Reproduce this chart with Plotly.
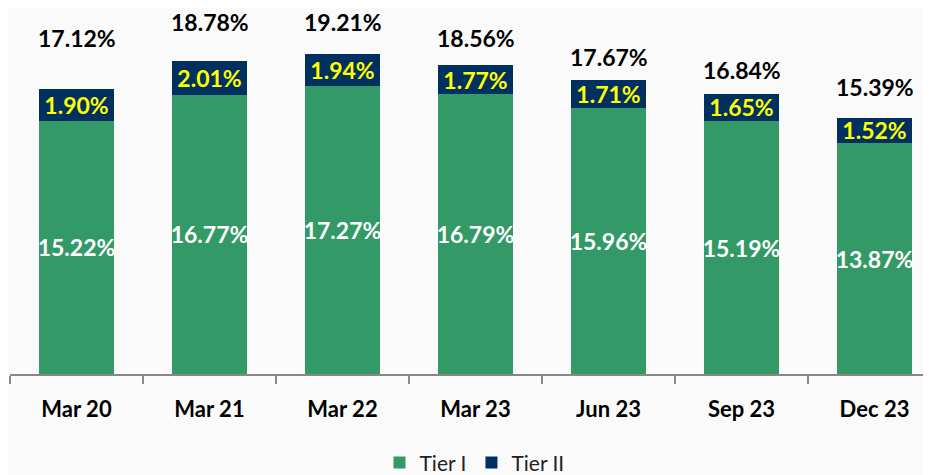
import plotly.graph_objects as go

categories = ["Mar 20", "Mar 21", "Mar 22", "Mar 23", "Jun 23", "Sep 23", "Dec 23"]
tier1 = [15.22, 16.77, 17.27, 16.79, 15.96, 15.19, 13.87]
tier2 = [1.90, 2.01, 1.94, 1.77, 1.71, 1.65, 1.52]
totals = [17.12, 18.78, 19.21, 18.56, 17.67, 16.84, 15.39]

# pixel offsets of the total labels above each bar (layout only)
total_label_shift = [51, 39, 32, 27, 23, 24, 31]

GREEN = "#339966"
NAVY = "#00305f"
FONT = "Lato"

fig = go.Figure()
fig.add_trace(go.Bar(
    x=categories, y=tier1, name="Tier I",
    marker=dict(color=GREEN, line=dict(width=0)),
    text=[f"{v:.2f}%" for v in tier1],
    textposition="inside", insidetextanchor="middle", textangle=0,
    textfont=dict(color="white", size=23, family=FONT, weight="bold"),
    constraintext="none",
    width=0.57,
))
fig.add_trace(go.Bar(
    x=categories, y=tier2, name="Tier II",
    marker=dict(color=NAVY, line=dict(width=0)),
    text=[f"{v:.2f}%" for v in tier2],
    textposition="inside", insidetextanchor="middle", textangle=0,
    textfont=dict(color="#ffff00", size=23, family=FONT, weight="bold"),
    constraintext="none",
    width=0.57,
))

for c, t, s in zip(categories, totals, total_label_shift):
    fig.add_annotation(
        x=c, y=t, text=f"{t:.2f}%", showarrow=False, borderpad=0,
        yshift=s, font=dict(size=23, color="black", family=FONT, weight="bold"),
    )

fig.update_layout(
    barmode="stack",
    width=931, height=475,
    margin=dict(l=2, r=0, t=0, b=109, autoexpand=False),
    paper_bgcolor="#fafafa", plot_bgcolor="#fafafa",
    uniformtext=dict(mode="show", minsize=23),
    showlegend=True,
    legend=dict(orientation="h", x=0.5, xanchor="center", y=-0.243, yanchor="middle",
                font=dict(size=21, color="#222", family=FONT), traceorder="normal",
                itemwidth=30),
    xaxis=dict(range=[-0.5, 6.485], showline=True, linecolor="#888", linewidth=1.5,
               ticks="outside", tickson="boundaries", ticklen=8, tickcolor="#888", tickwidth=1.5,
               tickfont=dict(size=22, color="black", family=FONT, weight="bold"),
               ticklabelstandoff=15, showgrid=False, automargin=False),
    yaxis=dict(range=[0, 21.98], visible=False, showgrid=False),
)

fig.write_html("out.html")
